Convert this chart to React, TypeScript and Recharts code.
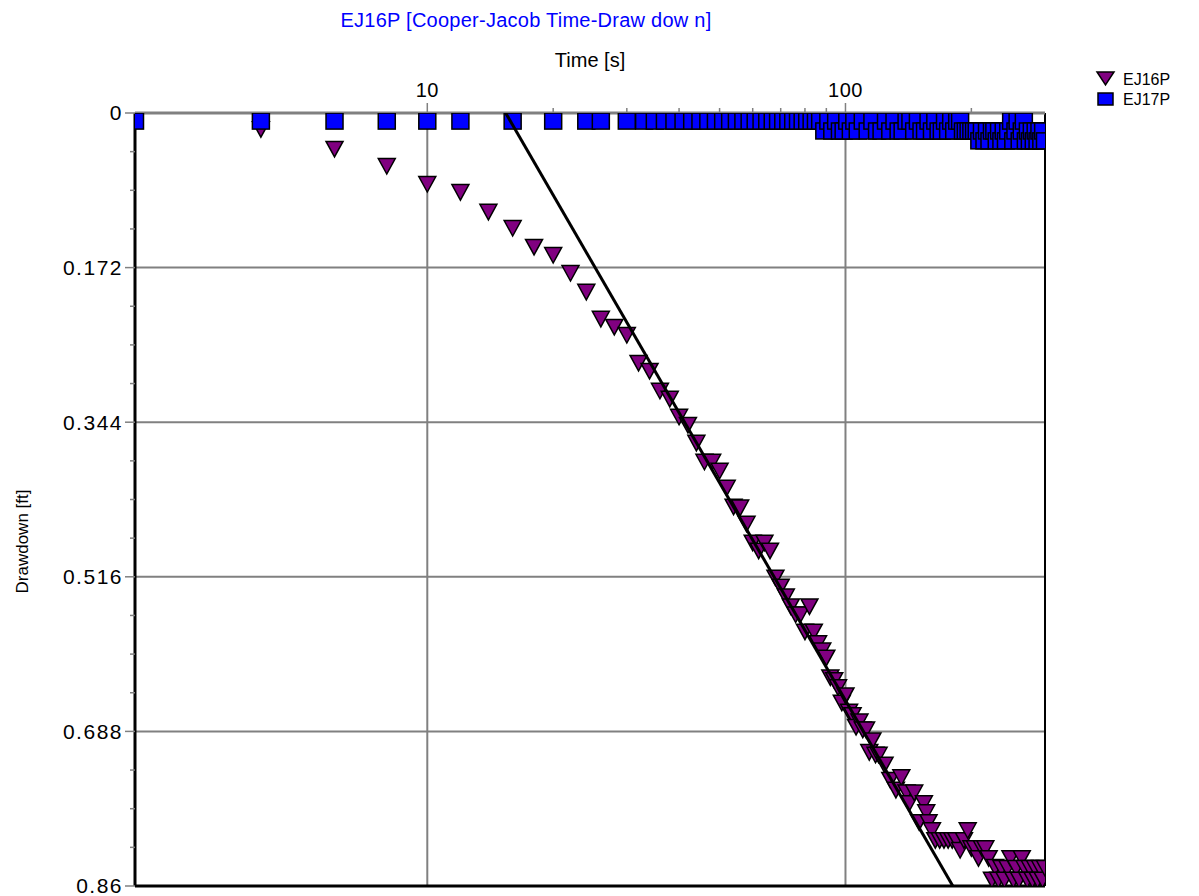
import { ScatterChart, Scatter, XAxis, YAxis, ReferenceLine } from "recharts";

// [time s, drawdown ft]
const ej16pReadings: [number, number][] = [
  [4, 0.018], [6, 0.04], [8, 0.059], [10, 0.079], [12, 0.088], [14, 0.11],
  [16, 0.128], [18, 0.149], [20, 0.158], [22, 0.178], [24, 0.199], [26, 0.229],
  [28, 0.238], [30, 0.247], [32, 0.278], [34, 0.287], [36, 0.309], [38, 0.318],
  [40, 0.338], [42, 0.347], [44, 0.367], [46, 0.388], [48, 0.388], [50, 0.398],
  [52, 0.417], [54, 0.438], [56, 0.439], [58, 0.457], [60, 0.478], [62, 0.487],
  [64, 0.478], [66, 0.487], [68, 0.517], [70, 0.527], [72, 0.538], [74, 0.549],
  [76, 0.558], [78, 0.558], [80, 0.577], [82, 0.549], [84, 0.577], [86, 0.59],
  [88, 0.598], [90, 0.606], [92, 0.628], [94, 0.631], [96, 0.639], [98, 0.656],
  [100, 0.648], [102, 0.666], [104, 0.67], [106, 0.683], [108, 0.677], [110, 0.686],
  [112, 0.686], [114, 0.711], [116, 0.698], [118, 0.714], [120, 0.714], [124, 0.725],
  [128, 0.742], [132, 0.753], [136, 0.739], [140, 0.756], [142, 0.768], [146, 0.756],
  [150, 0.789], [154, 0.768], [156, 0.778], [158, 0.789], [161, 0.798], [164, 0.809],
  [168, 0.809], [172, 0.809], [176, 0.809], [180, 0.809], [184, 0.809], [188, 0.82],
  [192, 0.809], [196, 0.798], [200, 0.818], [204, 0.818], [208, 0.829], [212, 0.818],
  [216, 0.818], [220, 0.829], [224, 0.853], [228, 0.839], [232, 0.853], [236, 0.84],
  [240, 0.853], [244, 0.84], [248, 0.829], [252, 0.853], [256, 0.84], [260, 0.853],
  [264, 0.829], [268, 0.84], [272, 0.853], [276, 0.84], [280, 0.853], [284, 0.84],
  [288, 0.853], [292, 0.84], [296, 0.853], [300, 0.84],
];

const ej17pReadings: [number, number][] = [
  [2, 0.009], [4, 0.009], [6, 0.009], [8, 0.009], [10, 0.009], [12, 0.009],
  [16, 0.009], [20, 0.009], [24, 0.009], [26, 0.009], [30, 0.009],
  [33, 0.009], [35, 0.009], [37, 0.009], [39, 0.009], [41, 0.009], [43, 0.009],
  [45, 0.009], [47, 0.009], [49, 0.009], [51, 0.009], [53, 0.009], [55, 0.009],
  [57, 0.009], [59, 0.009], [61, 0.009], [63, 0.009], [65, 0.009], [67, 0.009],
  [69, 0.009], [71, 0.009], [73, 0.009], [75, 0.009], [77, 0.009], [79, 0.009],
  [81, 0.009], [83, 0.009], [85, 0.009], [87, 0.009],
  [89, 0.02], [91, 0.009], [93, 0.02], [95, 0.009], [97, 0.02], [99, 0.02],
  [101, 0.009], [103, 0.02], [105, 0.009], [107, 0.02], [110, 0.009], [113, 0.02],
  [116, 0.009], [119, 0.02], [122, 0.02], [125, 0.009], [128, 0.02], [131, 0.009],
  [134, 0.02], [137, 0.02], [140, 0.009], [143, 0.009], [146, 0.02], [149, 0.009],
  [152, 0.02], [155, 0.02], [158, 0.009], [161, 0.02], [164, 0.009], [167, 0.02],
  [170, 0.02], [173, 0.009], [176, 0.02], [179, 0.009], [182, 0.02], [185, 0.009],
  [188, 0.009], [191, 0.02], [194, 0.02], [197, 0.02], [200, 0.02], [203, 0.02],
  [206, 0.02], [209, 0.031], [212, 0.02], [215, 0.031], [218, 0.02], [221, 0.031],
  [224, 0.02], [227, 0.02], [230, 0.031], [233, 0.02], [236, 0.031], [239, 0.02],
  [242, 0.031], [245, 0.02], [249, 0.009], [252, 0.031], [255, 0.02], [258, 0.009],
  [261, 0.031], [264, 0.02], [267, 0.009], [270, 0.031], [273, 0.02], [276, 0.031],
  [279, 0.02], [282, 0.031], [285, 0.02], [288, 0.031], [291, 0.02], [294, 0.031],
  [297, 0.02], [300, 0.031],
];

// Cooper-Jacob straight-line fit end points
const fitReadings: [number, number][] = [
  [15.4, 0],
  [180.6, 0.86],
];

const timeTicks = [10, 20, 30, 40, 50, 60, 70, 80, 90, 100, 200];
const timeLabels = [10, 100];
const timeGrid = [10, 100];
const drawdownTicks = [
  0, 0.043, 0.086, 0.129, 0.172, 0.215, 0.258, 0.301, 0.344, 0.387, 0.43,
  0.473, 0.516, 0.559, 0.602, 0.645, 0.688, 0.731, 0.774, 0.817, 0.86,
];
const drawdownLabels = [0, 0.172, 0.344, 0.516, 0.688, 0.86];
const drawdownGrid = [0.172, 0.344, 0.516, 0.688];

const FONT = "'Liberation Sans', Arial, sans-serif";

const toPoints = (rows: [number, number][]) => rows.map(([t, d]) => ({ t, d }));

function TimeTick(props: any) {
  const { x, y, payload } = props;
  const major = timeLabels.includes(payload.value);
  return (
    <g>
      <line x1={x} x2={x} y1={y} y2={y - (major ? 10 : 5)} stroke="#808080" strokeWidth={1.5} />
      {major && (
        <text x={x} y={y - 16} textAnchor="middle" fontSize={20} fontFamily={FONT} fill="#000" letterSpacing={0.5}>
          {payload.value}
        </text>
      )}
    </g>
  );
}

function DrawdownTick(props: any) {
  const { x, y, payload } = props;
  const major = drawdownLabels.includes(payload.value);
  return (
    <g>
      <line x1={x - (major ? 10 : 5)} x2={x} y1={y} y2={y} stroke="#808080" strokeWidth={1.5} />
      {major && (
        <text
          x={x - 12}
          y={y}
          dy="0.35em"
          textAnchor="end"
          fontSize={21}
          letterSpacing={1.5}
          fontFamily={FONT}
          fill="#000"
        >
          {String(payload.value)}
        </text>
      )}
    </g>
  );
}

function Triangle(props: any) {
  const { cx, cy } = props;
  return (
    <polygon
      points={`${cx - 8.5},${cy - 7.5} ${cx + 8.5},${cy - 7.5} ${cx},${cy + 8}`}
      fill="#800080"
      stroke="#000"
      strokeWidth={1.5}
    />
  );
}

function Square(props: any) {
  const { cx, cy } = props;
  return <rect x={cx - 8.5} y={cy - 8} width={17} height={16} fill="#0000ff" stroke="#000" strokeWidth={1.5} />;
}

function DrawdownLabel(props: any) {
  const { viewBox } = props;
  const cy = viewBox.y + viewBox.height / 2 + 42;
  return (
    <text x={28} y={cy} transform={`rotate(-90, 28, ${cy})`} textAnchor="middle" fontSize={17} fontFamily={FONT} fill="#000">
      Drawdown [ft]
    </text>
  );
}

export default function App() {
  return (
    <div style={{ position: "absolute", left: 0, top: 0, width: 1199, height: 896, background: "#fff", fontFamily: FONT }}>
      <div
        style={{
          position: "absolute",
          left: 0,
          top: 9,
          width: 1052,
          textAlign: "center",
          color: "#0000ff",
          fontSize: 20,
          letterSpacing: 0.25,
        }}
      >
        EJ16P [Cooper-Jacob Time-Draw dow n]
      </div>
      <svg style={{ position: "absolute", left: 1090, top: 64 }} width={109} height={50}>
        <polygon points="7,8 24,8 15.5,21" fill="#800080" stroke="#000" strokeWidth={1.5} />
        <text x={33} y={21} fontSize={16} fontFamily={FONT} fill="#000">EJ16P</text>
        <rect x={8} y={29} width={15} height={12} fill="#0000ff" stroke="#000" strokeWidth={1.5} />
        <text x={33} y={41} fontSize={16} fontFamily={FONT} fill="#000">EJ17P</text>
      </svg>
      <ScatterChart width={1199} height={896} margin={{ top: 68, right: 154, bottom: 10, left: 0 }}>
        <XAxis
          type="number"
          dataKey="t"
          scale="log"
          domain={[2, 300]}
          orientation="top"
          ticks={timeTicks}
          interval={0}
          height={45}
          allowDataOverflow
          axisLine={{ stroke: "#808080", strokeWidth: 3 }}
          tickLine={false}
          tickSize={0}
          tickMargin={0}
          tick={<TimeTick />}
          label={{ value: "Time [s]", position: "top", offset: 1, fill: "#000", fontSize: 20, fontFamily: FONT }}
        />
        <YAxis
          type="number"
          dataKey="d"
          domain={[0, 0.86]}
          reversed
          ticks={drawdownTicks}
          interval={0}
          width={135}
          allowDataOverflow
          axisLine={{ stroke: "#000", strokeWidth: 3 }}
          tickLine={false}
          tickSize={0}
          tickMargin={0}
          tick={<DrawdownTick />}
          label={<DrawdownLabel />}
        />
        {timeGrid.map((t) => (
          <ReferenceLine key={`vx${t}`} x={t} stroke="#808080" strokeWidth={2} />
        ))}
        {drawdownGrid.map((d) => (
          <ReferenceLine key={`hy${d}`} y={d} stroke="#808080" strokeWidth={2} />
        ))}
        <ReferenceLine x={300} stroke="#000" strokeWidth={2} />
        <ReferenceLine y={0.86} stroke="#000" strokeWidth={3} />
        <Scatter name="EJ16P" data={toPoints(ej16pReadings)} shape={<Triangle />} isAnimationActive={false} />
        <Scatter name="EJ17P" data={toPoints(ej17pReadings)} shape={<Square />} isAnimationActive={false} />
        <Scatter
          name="fit"
          data={toPoints(fitReadings)}
          line={{ stroke: "#000", strokeWidth: 3 }}
          shape={() => <g />}
          legendType="none"
          isAnimationActive={false}
        />
      </ScatterChart>
    </div>
  );
}
